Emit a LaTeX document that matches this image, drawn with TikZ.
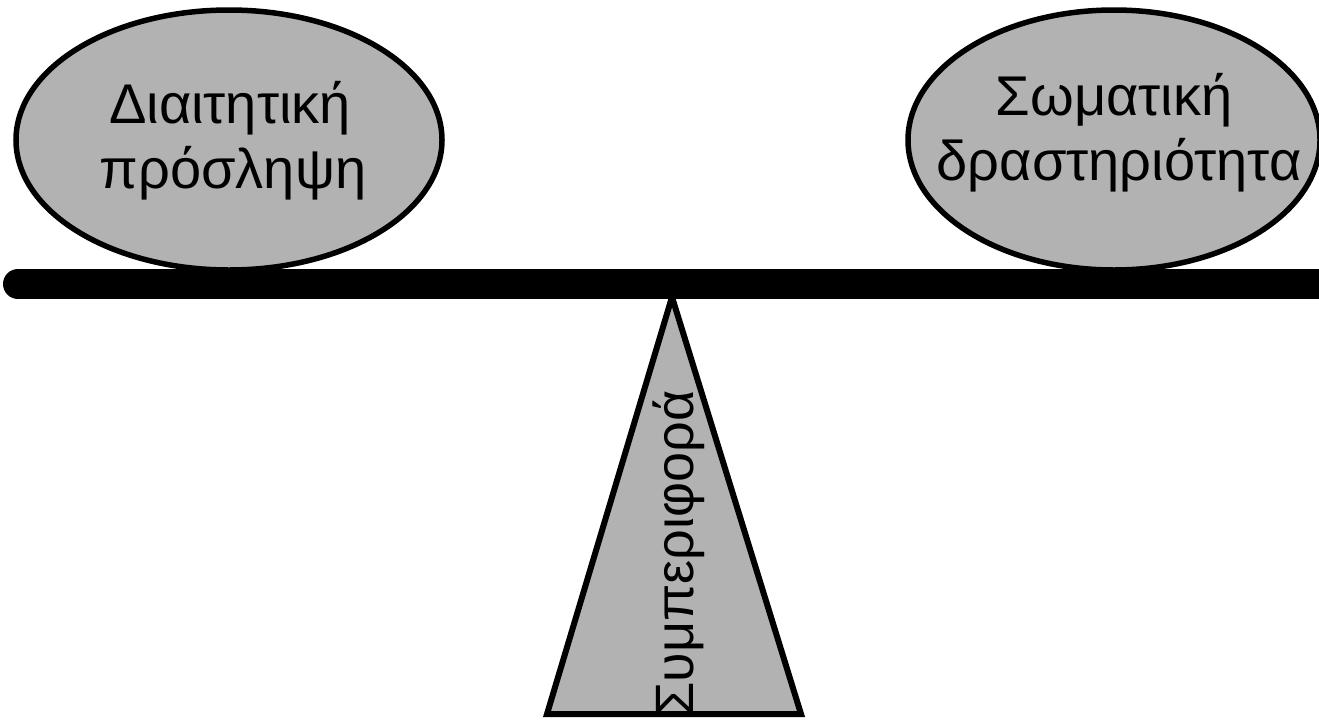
\documentclass[tikz,border=0pt]{standalone}
\usepackage{fontspec}
\setmainfont{Liberation Sans}
\usetikzlibrary{shapes.geometric}
\definecolor{fillgray}{gray}{0.7}
\tikzset{
  weight/.style={ellipse, draw=black, line width=5.5pt, fill=fillgray, inner sep=0pt},
  lbl/.style={font=\fontsize{56}{65}\selectfont, align=center, inner sep=0pt},
  beam/.style={line width=30pt, line cap=round},
  fulcrum/.style={draw=black, line width=6pt, fill=fillgray, line join=miter}
}
\begin{document}
\begin{tikzpicture}[x=1pt,y=-1pt]
\useasboundingbox (0,0) rectangle (1319,721);
% weights
\node[weight, minimum width=426pt, minimum height=260pt] (left) at (229,140) {};
\node[weight, minimum width=412pt, minimum height=260pt] (right) at (1114,140) {};
% beam
\coordinate (beamL) at (18,284);
\coordinate (beamR) at (1340,284);
\draw[beam] (beamL) -- (beamR);
% fulcrum
\coordinate (apex) at (672,297);
\coordinate (baseL) at (547,714);
\coordinate (baseR) at (801,714);
\draw[fulcrum] (apex) -- (baseR) -- (baseL) -- cycle;
% labels
\node[lbl, anchor=base] (l1) at (230,123) {Διαιτητική};
\node[lbl, anchor=base] (l2) at (233,188) {πρόσληψη};
\node[lbl, anchor=base] (r1) at (1114,115) {Σωματική};
\node[lbl, anchor=base] (r2) at (1119,180) {δραστηριότητα};
\node[lbl, font=\fontsize{54}{60}\selectfont, anchor=base, rotate=90] (f) at (693,553) {Συμπεριφορά};
\end{tikzpicture}
\end{document}
